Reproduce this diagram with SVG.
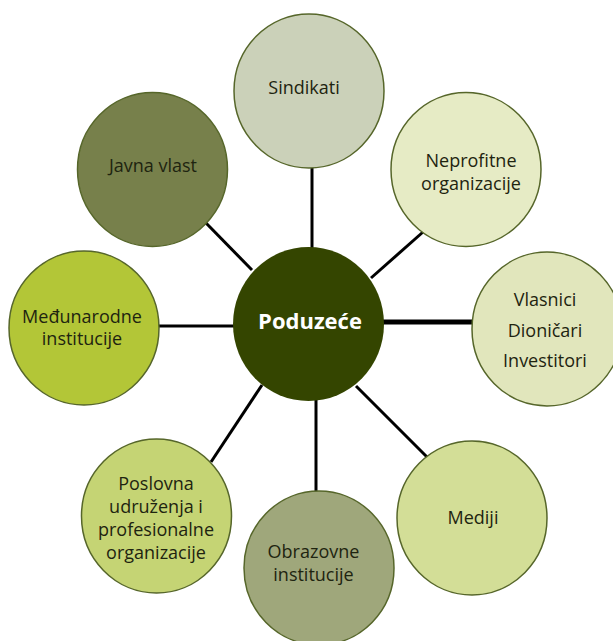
<svg xmlns="http://www.w3.org/2000/svg" width="613" height="641" viewBox="0 0 613 641">
<style>
.n{stroke:#56662a;stroke-width:1.5}
.t{font-family:"Open Sans","Noto Sans","Liberation Sans",sans-serif;font-size:18px;fill:#1e2410;text-anchor:middle}
.c{stroke:#000;stroke-width:3;fill:none}
.hub{font-family:"Open Sans","Noto Sans","Liberation Sans",sans-serif;font-size:22px;font-weight:bold;fill:#fff;text-anchor:middle}
</style>
<rect width="613" height="641" fill="#fff"/>
<g id="connectors">
<line class="c" x1="312" y1="168" x2="312" y2="248"/>
<line class="c" x1="206" y1="223" x2="252" y2="270"/>
<line class="c" x1="423" y1="232" x2="371" y2="278"/>
<line class="c" x1="158" y1="326" x2="235" y2="326"/>
<line class="c" x1="383" y1="322" x2="473" y2="322" style="stroke-width:5"/>
<line class="c" x1="262" y1="385" x2="211" y2="462"/>
<line class="c" x1="316" y1="400" x2="316" y2="492"/>
<line class="c" x1="356" y1="386" x2="427" y2="457"/>
</g>
<g id="sindikati"><ellipse class="n" cx="309" cy="91" rx="75" ry="77" fill="#cbd1b9"/><text class="t" x="304" y="94">Sindikati</text></g>
<g id="javna-vlast"><ellipse class="n" cx="152.5" cy="169.5" rx="75" ry="77" fill="#77804b"/><text class="t" x="153" y="172">Javna vlast</text></g>
<g id="neprofitne"><ellipse class="n" cx="466" cy="169.5" rx="75" ry="77" fill="#e6ebc5"/><text class="t" x="471" y="167">Neprofitne<tspan x="471" y="190">organizacije</tspan></text></g>
<g id="medunarodne"><ellipse class="n" cx="84" cy="328" rx="75" ry="77" fill="#b3c637"/><text class="t" x="82" y="323">Međunarodne<tspan x="82" y="345">institucije</tspan></text></g>
<g id="vlasnici"><ellipse class="n" cx="547" cy="329" rx="75" ry="77" fill="#e1e6bc"/><text class="t" x="545" y="306">Vlasnici<tspan x="545" y="337">Dioničari</tspan><tspan x="545" y="367">Investitori</tspan></text></g>
<g id="poduzece"><ellipse cx="308.5" cy="324" rx="75.5" ry="77" fill="#344500"/><text class="hub" x="310" y="329">Poduzeće</text></g>
<g id="poslovna"><ellipse class="n" cx="156.5" cy="516" rx="75" ry="77" fill="#c5d474"/><text class="t" x="156" y="490">Poslovna<tspan x="156" y="513">udruženja i</tspan><tspan x="156" y="536">profesionalne</tspan><tspan x="156" y="559">organizacije</tspan></text></g>
<g id="obrazovne"><ellipse class="n" cx="319" cy="568" rx="75" ry="77" fill="#9fa77b"/><text class="t" x="313.5" y="558">Obrazovne<tspan x="313.5" y="581">institucije</tspan></text></g>
<g id="mediji"><ellipse class="n" cx="472" cy="518" rx="75" ry="77" fill="#d3de97"/><text class="t" x="473" y="524">Mediji</text></g>
</svg>
